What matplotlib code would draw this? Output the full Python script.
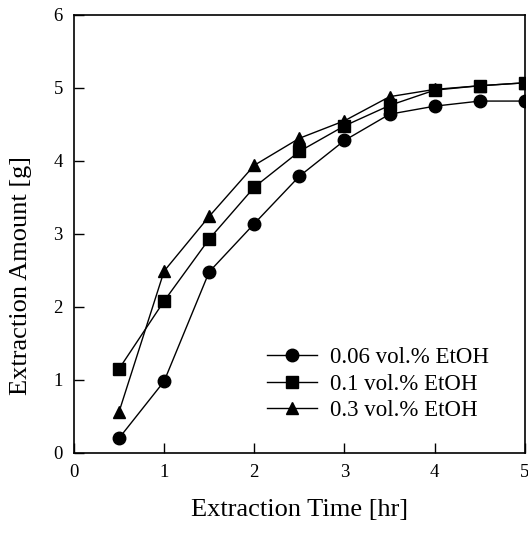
import matplotlib.pyplot as plt

plt.rcParams['font.family'] = ['Liberation Serif', 'DejaVu Serif']

# Data
time_hr = [0.5, 1.0, 1.5, 2.0, 2.5, 3.0, 3.5, 4.0, 4.5, 5.0]
etoh_006 = [0.20, 0.98, 2.48, 3.14, 3.79, 4.28, 4.64, 4.75, 4.82, 4.82]
etoh_01 = [1.15, 2.08, 2.93, 3.64, 4.13, 4.48, 4.76, 4.97, 5.03, 5.07]
etoh_03 = [0.56, 2.49, 3.24, 3.94, 4.31, 4.55, 4.88, 4.98, 5.03, 5.07]
labels = ['0.06 vol.% EtOH', '0.1 vol.% EtOH', '0.3 vol.% EtOH']

fig = plt.figure(figsize=(5.28, 5.34), dpi=100)
ax = fig.add_axes([0.140, 0.152, 0.854, 0.820])

ax.plot(time_hr, etoh_006, '-o', color='black', lw=1, ms=9, label=labels[0])
ax.plot(time_hr, etoh_01, '-s', color='black', lw=1, ms=8.5, label=labels[1])
ax.plot(time_hr, etoh_03, '-^', color='black', lw=1, ms=9, label=labels[2])

ax.set_xlim(0, 5)
ax.set_ylim(0, 6)
ax.set_xticks([0, 1, 2, 3, 4, 5])
ax.set_yticks([0, 1, 2, 3, 4, 5, 6])
ax.tick_params(direction='in', length=7, width=1, labelsize=13.5, pad=8)
for s in ax.spines.values():
    s.set_linewidth(1.2)

ax.set_xlabel('Extraction Time [hr]', fontsize=19, labelpad=13)
ax.set_ylabel('Extraction Amount [g]', fontsize=19)
ax.yaxis.set_label_coords(-0.094, 0.406)

ax.legend(loc='upper left', bbox_to_anchor=(0.408, 0.263), frameon=False,
          fontsize=16.5, handlelength=2.2, handletextpad=0.55, labelspacing=0.25,
          borderaxespad=0)

fig.savefig('out.png', dpi=100)
